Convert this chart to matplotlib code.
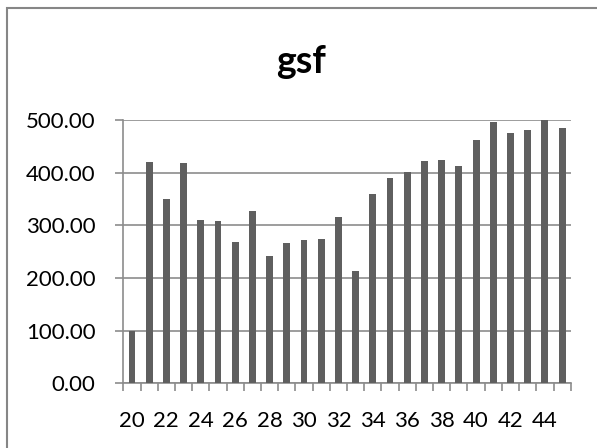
import matplotlib.pyplot as plt
import numpy as np
from matplotlib.patches import Rectangle

# 数据
categories = list(range(20, 46))
gsf = [100, 420, 351, 419, 311, 308, 268, 327, 241, 266, 272, 274, 315, 213,
       359, 390, 401, 422, 424, 413, 463, 496, 476, 482, 500, 484]
y_ticks = [0, 100, 200, 300, 400, 500]

plt.rcParams['font.family'] = ['Lato', 'DejaVu Sans']

fig = plt.figure(figsize=(5.97, 4.48), dpi=100)
ax = fig.add_axes([0.2066, 0.1444, 0.7494, 0.5876])

# 外边框
fig.patches.append(Rectangle((6.5 / 597, -0.1), 1.2, 1 - 8.5 / 448 + 0.1,
                             transform=fig.transFigure, fill=False,
                             edgecolor='#868686', linewidth=1.5))

x = np.arange(len(categories))
ax.bar(x, gsf, width=0.4, color='#5f5f5f', zorder=3)

ax.set_xlim(-0.5, len(categories) - 0.5)
ax.set_ylim(0, 500)

# 网格线
ax.set_yticks(y_ticks)
ax.set_yticklabels([f'{v:.2f}' for v in y_ticks])
ax.grid(axis='y', color='#8c8c8c', linewidth=1.2, zorder=0)

# x 轴: 刻度线在类别边界, 标签每隔一个
ax.set_xticks(x[::2])
ax.set_xticklabels([str(c) for c in categories[::2]])
ax.set_xticks(np.arange(len(categories) + 1) - 0.5, minor=True)
ax.tick_params(axis='x', which='major', length=0, pad=20, labelsize=16)
ax.tick_params(axis='x', which='minor', length=6, width=1.2, color='#8c8c8c')
ax.tick_params(axis='y', which='major', length=6, width=1.2, color='#8c8c8c',
               pad=14, labelsize=16)

for side in ['top', 'right']:
    ax.spines[side].set_visible(False)
for side in ['left', 'bottom']:
    ax.spines[side].set_color('#8c8c8c')
    ax.spines[side].set_linewidth(1.2)

fig.text(0.505, 1 - 73 / 448, 'gsf', ha='center', va='baseline', fontsize=27,
         fontweight='bold')

plt.savefig('out.png', dpi=100)
